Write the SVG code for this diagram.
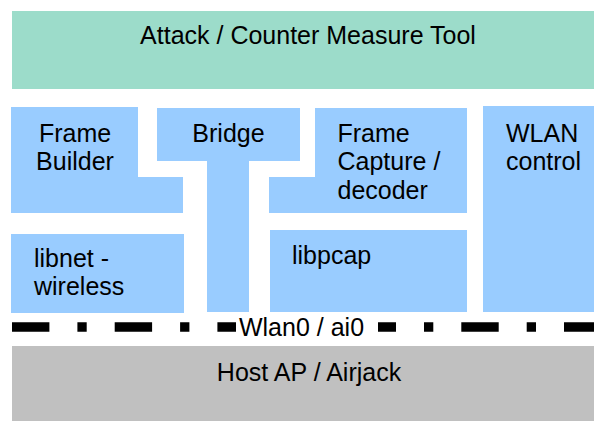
<svg xmlns="http://www.w3.org/2000/svg" width="594" height="421" viewBox="0 0 594 421">
<style>
text{font-family:"Liberation Sans",Arial,sans-serif;font-size:25px;fill:#000}
.c{text-anchor:middle}
.blue{fill:#99ccff}
.dash{stroke:#000;stroke-width:9.5;stroke-dasharray:37.4 28 9.3 28;fill:none}
</style>
<rect width="594" height="421" fill="#fff"/>
<g id="attack-tool">
<rect x="12" y="11" width="582" height="78" fill="#9cdcca"/>
<text class="c" x="308" y="44">Attack / Counter Measure Tool</text>
</g>
<g id="frame-builder">
<path class="blue" d="M11 107H138V177H183V213H11Z"/>
<text class="c" x="75" y="142">Frame</text>
<text class="c" x="75" y="170">Builder</text>
</g>
<g id="bridge">
<path class="blue" d="M157 108H300V161H249V312H207V161H157Z"/>
<text class="c" x="228.5" y="142">Bridge</text>
</g>
<g id="frame-capture">
<path class="blue" d="M315 108H467V213H269V177H315Z"/>
<text x="337.5" y="142">Frame</text>
<text x="337.5" y="170">Capture /</text>
<text x="337.5" y="199">decoder</text>
</g>
<g id="wlan-control">
<rect class="blue" x="483" y="106" width="111" height="206"/>
<text x="506" y="142">WLAN</text>
<text x="506" y="170">control</text>
</g>
<g id="libnet">
<rect class="blue" x="11" y="234" width="173" height="79"/>
<text x="34" y="267">libnet -</text>
<text x="34" y="295">wireless</text>
</g>
<g id="libpcap">
<rect class="blue" x="270" y="230" width="197" height="82"/>
<text x="292" y="264">libpcap</text>
</g>
<g id="connectors">
<line class="dash" x1="12" y1="327" x2="236" y2="327"/>
<line class="dash" x1="378" y1="327" x2="594" y2="327" stroke-dashoffset="19.4"/>
<text class="c" x="301.5" y="336">Wlan0 / ai0</text>
</g>
<g id="host-ap">
<rect x="12" y="346" width="582" height="75" fill="#c0c0c0"/>
<text class="c" x="309" y="381">Host AP / Airjack</text>
</g>
</svg>
